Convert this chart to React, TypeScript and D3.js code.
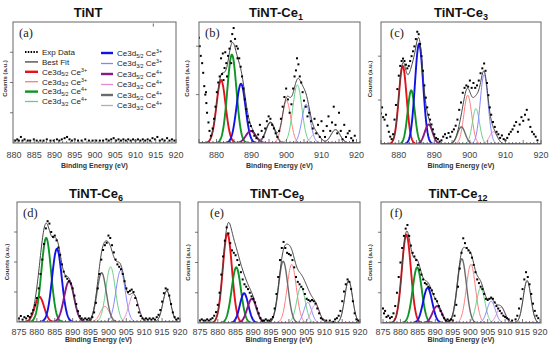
import React from 'react'
import * as d3 from 'd3'

type Pt = [number, number]
type Peak = [number, number, number] // centre (eV), height, sigma

// ---- data ----
const titles = ['TiNT', 'TiNT-Ce', 'TiNT-Ce', 'TiNT-Ce', 'TiNT-Ce', 'TiNT-Ce']
const titleSubs = ['', '1', '3', '6', '9', '12']
const letters = ['(a)', '(b)', '(c)', '(d)', '(e)', '(f)']
const xDomains: Pt[] = [[880, 920], [875, 921], [875, 920], [875, 920], [875, 920], [875, 920]]
const xLabels = [
  [880, 885, 890, 895, 900, 905, 910, 915, 920],
  [880, 890, 900, 910, 920],
  [880, 890, 900, 910, 920],
  [875, 880, 885, 890, 895, 900, 905, 910, 915, 920],
  [875, 880, 885, 890, 895, 900, 905, 910, 915, 920],
  [875, 880, 885, 890, 895, 900, 905, 910, 915, 920],
]
const yTicks = [[0.25, 0.5, 0.75], [0.4, 0.8], [0.36, 0.72], [0.25, 0.5, 0.75], [0.25, 0.5, 0.75], [0.25, 0.5, 0.75]]

// component order: 5/2 Ce3+ red, 3/2 Ce3+, 5/2 Ce4+ green, 3/2 Ce4+, 5/2 blue, 3/2, 5/2 purple, 3/2, 5/2 gray, 3/2
const compSubs = ['5/2', '3/2', '5/2', '3/2', '5/2', '3/2', '5/2', '3/2', '5/2', '3/2']
const compSups = ['3+', '3+', '4+', '4+', '3+', '3+', '4+', '4+', '4+', '4+']

const peaksB: Peak[] = [[881.3, 0.52, 1.3], [900.0, 0.35, 1.2], [884.4, 0.73, 1.3], [903.1, 0.48, 1.3], [887.0, 0.49, 1.3], [905.6, 0.32, 1.2], [889.8, 0.1, 1.4], [908.3, 0.08, 1.3], [895.4, 0.17, 1.3], [914.0, 0.11, 1.3]]
const peaksC: Peak[] = [[881.1, 0.64, 1.1], [899.4, 0.4, 1.1], [883.5, 0.44, 1.0], [901.7, 0.29, 1.0], [885.7, 0.82, 1.15], [904.0, 0.57, 1.1], [888.4, 0.16, 1.1], [906.6, 0.1, 1.1], [897.6, 0.14, 1.1], [916.0, 0, 1]]
const peaksD: Peak[] = [[880.7, 0.21, 1.3], [899.0, 0.13, 1.3], [882.6, 0.7, 1.35], [900.6, 0.46, 1.3], [885.6, 0.61, 1.35], [903.4, 0.43, 1.3], [889.0, 0.34, 1.4], [907.0, 0.23, 1.3], [898.1, 0.41, 1.3], [916.3, 0.26, 1.1]]
const peaksE: Peak[] = [[882.7, 0.74, 1.3], [900.8, 0.485, 1.3], [885.2, 0.46, 1.3], [903.4, 0.3, 1.2], [887.4, 0.245, 1.2], [905.3, 0.17, 1.1], [889.6, 0.2, 1.3], [907.4, 0.15, 1.2], [898.4, 0.51, 1.3], [916.8, 0.35, 1.1]]
const peaksF: Peak[] = [[881.7, 0.73, 1.3], [900.2, 0.485, 1.3], [884.8, 0.46, 1.3], [903.0, 0.29, 1.2], [887.8, 0.29, 1.3], [906.0, 0.18, 1.2], [890.5, 0.14, 1.3], [908.8, 0.13, 1.2], [897.6, 0.53, 1.3], [916.3, 0.35, 1.1]]

const expA: Pt[] = [[880.3, 0.02], [880.8, 0.03], [881.2, 0.02], [881.7, 0.05], [882.1, 0.02], [882.6, 0.03], [883.4, 0.02], [884.0, 0.02], [884.9, 0.03], [885.6, 0.02], [886.5, 0.02], [887.3, 0.02], [888.1, 0.03], [889.0, 0.02], [889.8, 0.02], [890.6, 0.03], [891.2, 0.02], [891.8, 0.03], [892.5, 0.04], [893.1, 0.05], [893.7, 0.03], [894.3, 0.02], [895.0, 0.03], [895.8, 0.02], [896.7, 0.02], [897.6, 0.03], [898.5, 0.02], [899.4, 0.02], [900.3, 0.02], [901.2, 0.02], [902.0, 0.02], [902.8, 0.03], [903.4, 0.02], [904.0, 0.03], [904.6, 0.04], [905.2, 0.02], [905.8, 0.03], [906.4, 0.02], [907.0, 0.03], [907.6, 0.02], [908.2, 0.03], [908.8, 0.02], [909.4, 0.03], [910.0, 0.02], [910.6, 0.03], [911.2, 0.02], [911.8, 0.03], [912.4, 0.02], [913.0, 0.03], [913.6, 0.02], [914.2, 0.04], [914.8, 0.03], [915.4, 0.05], [916.0, 0.02], [916.6, 0.03], [917.2, 0.02], [917.8, 0.04], [918.4, 0.02], [919.0, 0.03], [919.6, 0.02]]
const strayA: Pt[] = [[914.4, 0.975]]

const expB: Pt[] = [[875.0, 0.87], [875.2, 0.8], [875.5, 0.72], [875.9, 0.66], [876.2, 0.58], [876.5, 0.47], [876.8, 0.4], [877.0, 0.42], [877.1, 0.33], [877.3, 0.25], [877.7, 0.17], [878.0, 0.1], [878.4, 0.06], [878.9, 0.12], [879.3, 0.2], [879.7, 0.3], [880.1, 0.42], [880.5, 0.5], [880.9, 0.55], [881.3, 0.7], [881.6, 0.57], [881.8, 0.74], [882.0, 0.52], [882.3, 0.62], [882.5, 0.75], [882.8, 0.66], [883.0, 0.55], [883.3, 0.72], [883.7, 0.78], [884.1, 0.84], [884.2, 0.66], [884.5, 0.9], [884.9, 0.95], [885.3, 0.86], [885.7, 0.8], [886.0, 0.7], [886.1, 0.78], [886.5, 0.7], [886.9, 0.63], [887.3, 0.55], [887.7, 0.45], [888.1, 0.36], [888.5, 0.28], [888.9, 0.22], [889.3, 0.17], [889.8, 0.14], [890.3, 0.1], [890.8, 0.06], [891.4, 0.04], [891.9, 0.07], [892.4, 0.15], [892.9, 0.1], [893.4, 0.05], [893.9, 0.12], [894.4, 0.18], [894.9, 0.22], [895.4, 0.2], [895.9, 0.15], [896.4, 0.12], [896.9, 0.08], [897.4, 0.05], [897.9, 0.1], [898.4, 0.2], [898.9, 0.3], [899.4, 0.38], [899.9, 0.45], [900.4, 0.36], [900.9, 0.25], [901.4, 0.32], [901.9, 0.45], [902.3, 0.55], [902.7, 0.6], [903.0, 0.7], [903.4, 0.65], [903.8, 0.55], [904.2, 0.5], [904.6, 0.42], [905.0, 0.35], [905.5, 0.3], [906.0, 0.22], [906.5, 0.25], [907.0, 0.18], [907.5, 0.12], [908.0, 0.2], [908.5, 0.08], [909.0, 0.15], [909.5, 0.05], [910.0, 0.18], [910.5, 0.1], [911.0, 0.05], [911.5, 0.14], [912.0, 0.22], [912.5, 0.1], [913.0, 0.17], [913.5, 0.3], [914.0, 0.15], [914.5, 0.08], [915.0, 0.25], [915.5, 0.1], [916.0, 0.03], [916.5, 0.15], [917.0, 0.05], [917.5, 0.08], [918.0, 0.1], [918.5, 0.04], [919.0, 0.02], [919.5, 0.06]]

const expC: Pt[] = [[875.0, 0.25], [875.3, 0.3], [875.6, 0.22], [876.0, 0.2], [876.4, 0.24], [876.8, 0.15], [877.2, 0.1], [877.6, 0.06], [878.0, 0.04], [878.4, 0.08], [878.8, 0.2], [879.2, 0.32], [879.6, 0.45], [880.0, 0.56], [880.4, 0.64], [880.8, 0.68], [881.2, 0.7], [881.6, 0.68], [882.0, 0.65], [882.4, 0.62], [882.8, 0.64], [883.2, 0.68], [883.6, 0.72], [884.0, 0.76], [884.4, 0.8], [884.8, 0.86], [885.2, 0.92], [885.6, 0.9], [886.0, 0.82], [886.4, 0.72], [886.8, 0.6], [887.2, 0.48], [887.6, 0.38], [888.0, 0.3], [888.4, 0.24], [888.8, 0.2], [889.2, 0.16], [889.6, 0.12], [890.0, 0.08], [890.5, 0.05], [891.0, 0.04], [891.5, 0.02], [892.0, 0.03], [892.5, 0.06], [893.0, 0.08], [893.5, 0.05], [894.0, 0.09], [894.5, 0.06], [895.0, 0.1], [895.5, 0.12], [896.0, 0.15], [896.5, 0.2], [897.0, 0.28], [897.5, 0.34], [898.0, 0.42], [898.5, 0.46], [899.0, 0.48], [899.5, 0.47], [900.0, 0.52], [900.5, 0.46], [901.0, 0.5], [901.5, 0.46], [902.0, 0.48], [902.5, 0.52], [903.0, 0.58], [903.5, 0.62], [904.0, 0.66], [904.4, 0.6], [904.8, 0.5], [905.2, 0.4], [905.6, 0.3], [906.0, 0.24], [906.5, 0.18], [907.0, 0.14], [907.5, 0.1], [908.0, 0.08], [908.5, 0.05], [909.0, 0.07], [909.5, 0.04], [910.0, 0.03], [910.5, 0.05], [911.0, 0.08], [911.5, 0.1], [912.0, 0.12], [912.5, 0.15], [913.0, 0.18], [913.5, 0.1], [914.0, 0.16], [914.5, 0.22], [915.0, 0.19], [915.5, 0.24], [916.0, 0.28], [916.5, 0.2], [917.0, 0.14], [917.5, 0.1], [918.0, 0.08], [918.5, 0.06], [919.0, 0.03]]

const expD: Pt[] = [[875.0, 0.03], [875.5, 0.05], [876.0, 0.02], [876.5, 0.04], [877.0, 0.03], [877.5, 0.05], [878.0, 0.04], [878.5, 0.07], [879.0, 0.1], [879.5, 0.14], [880.0, 0.2], [880.5, 0.28], [881.0, 0.4], [881.5, 0.52], [882.0, 0.65], [882.5, 0.78], [883.0, 0.84], [883.5, 0.82], [884.0, 0.75], [884.5, 0.71], [885.0, 0.72], [885.5, 0.68], [886.0, 0.62], [886.5, 0.56], [887.0, 0.48], [887.5, 0.42], [888.0, 0.38], [888.5, 0.36], [889.0, 0.34], [889.5, 0.32], [890.0, 0.28], [890.5, 0.22], [891.0, 0.15], [891.5, 0.09], [892.0, 0.05], [892.5, 0.03], [893.0, 0.02], [893.5, 0.03], [894.0, 0.02], [894.5, 0.03], [895.0, 0.02], [895.5, 0.04], [896.0, 0.08], [896.5, 0.16], [897.0, 0.28], [897.5, 0.4], [898.0, 0.52], [898.5, 0.6], [899.0, 0.64], [899.5, 0.66], [900.0, 0.72], [900.5, 0.7], [901.0, 0.64], [901.5, 0.58], [902.0, 0.52], [902.5, 0.48], [903.0, 0.46], [903.5, 0.44], [904.0, 0.4], [904.5, 0.34], [905.0, 0.28], [905.5, 0.25], [906.0, 0.26], [906.5, 0.27], [907.0, 0.25], [907.5, 0.2], [908.0, 0.14], [908.5, 0.08], [909.0, 0.05], [909.5, 0.03], [910.0, 0.02], [910.5, 0.03], [911.0, 0.02], [911.5, 0.03], [912.0, 0.02], [912.5, 0.03], [913.0, 0.02], [913.5, 0.04], [914.0, 0.06], [914.5, 0.1], [915.0, 0.17], [915.5, 0.24], [916.0, 0.28], [916.5, 0.27], [917.0, 0.22], [917.5, 0.15], [918.0, 0.08], [918.5, 0.04], [919.0, 0.02], [919.5, 0.03]]

const expE: Pt[] = [[875.0, 0.02], [875.5, 0.03], [876.0, 0.02], [876.5, 0.02], [877.0, 0.03], [877.5, 0.02], [878.0, 0.03], [878.5, 0.04], [879.0, 0.06], [879.5, 0.09], [880.0, 0.15], [880.5, 0.25], [881.0, 0.4], [881.5, 0.55], [882.0, 0.68], [882.5, 0.79], [883.0, 0.74], [883.5, 0.66], [884.0, 0.6], [884.5, 0.58], [885.0, 0.56], [885.5, 0.52], [886.0, 0.48], [886.5, 0.42], [887.0, 0.36], [887.5, 0.32], [888.0, 0.3], [888.5, 0.28], [889.0, 0.25], [889.5, 0.22], [890.0, 0.2], [890.5, 0.17], [891.0, 0.12], [891.5, 0.08], [892.0, 0.04], [892.5, 0.02], [893.0, 0.02], [893.5, 0.03], [894.0, 0.02], [894.5, 0.02], [895.0, 0.03], [895.5, 0.05], [896.0, 0.12], [896.5, 0.24], [897.0, 0.38], [897.5, 0.52], [898.0, 0.62], [898.5, 0.67], [899.0, 0.62], [899.5, 0.58], [900.0, 0.57], [900.5, 0.56], [901.0, 0.52], [901.5, 0.46], [902.0, 0.38], [902.5, 0.34], [903.0, 0.32], [903.5, 0.3], [904.0, 0.28], [904.5, 0.24], [905.0, 0.2], [905.5, 0.19], [906.0, 0.18], [906.5, 0.19], [907.0, 0.18], [907.5, 0.16], [908.0, 0.12], [908.5, 0.08], [909.0, 0.04], [909.5, 0.03], [910.5, 0.02], [911.5, 0.02], [912.5, 0.01], [913.0, 0.03], [913.5, 0.04], [914.0, 0.06], [914.5, 0.1], [915.0, 0.18], [915.5, 0.26], [916.0, 0.32], [916.5, 0.36], [917.0, 0.34], [917.5, 0.28], [918.0, 0.18], [918.5, 0.08], [919.0, 0.03], [919.5, 0.02]]

const expF: Pt[] = [[875.0, 0.12], [875.3, 0.08], [875.6, 0.1], [876.0, 0.05], [876.5, 0.06], [877.0, 0.04], [877.5, 0.05], [878.0, 0.08], [878.5, 0.14], [879.0, 0.25], [879.5, 0.38], [880.0, 0.5], [880.5, 0.62], [881.0, 0.72], [881.5, 0.78], [882.0, 0.81], [882.5, 0.72], [883.0, 0.64], [883.5, 0.58], [884.0, 0.55], [884.5, 0.52], [885.0, 0.48], [885.5, 0.44], [886.0, 0.4], [886.5, 0.36], [887.0, 0.33], [887.5, 0.32], [888.0, 0.3], [888.5, 0.29], [889.0, 0.27], [889.5, 0.24], [890.0, 0.2], [890.5, 0.18], [891.0, 0.14], [891.5, 0.1], [892.0, 0.07], [892.5, 0.04], [893.0, 0.02], [893.5, 0.03], [894.0, 0.02], [894.5, 0.03], [895.0, 0.02], [895.5, 0.06], [896.0, 0.15], [896.5, 0.3], [897.0, 0.45], [897.5, 0.58], [898.0, 0.7], [898.5, 0.66], [899.0, 0.62], [899.5, 0.6], [900.0, 0.58], [900.5, 0.54], [901.0, 0.48], [901.5, 0.42], [902.0, 0.36], [902.5, 0.33], [903.0, 0.3], [903.5, 0.28], [904.0, 0.24], [904.5, 0.2], [905.0, 0.19], [905.5, 0.2], [906.0, 0.21], [906.5, 0.2], [907.0, 0.17], [907.5, 0.14], [908.0, 0.12], [908.5, 0.1], [909.0, 0.08], [909.5, 0.06], [910.0, 0.05], [910.5, 0.04], [911.0, 0.03], [912.0, 0.02], [913.0, 0.03], [913.5, 0.06], [914.0, 0.12], [914.5, 0.2], [915.0, 0.28], [915.5, 0.36], [916.0, 0.42], [916.5, 0.38], [917.0, 0.32], [917.5, 0.24], [918.0, 0.16], [918.5, 0.1], [919.0, 0.06], [919.5, 0.04]]

const peakSets: Peak[][] = [[], peaksB, peaksC, peaksD, peaksE, peaksF]
const expSets: Pt[][] = [expA, expB, expC, expD, expE, expF]

// ---- styling / layout ----
const compColors = ['#e3121b', '#ff7c7c', '#0f9426', '#66cf86', '#1212e6', '#8585ff', '#8a1887', '#e48ad6', '#6b6b6b', '#b0b0b0']
const compWidths = [1.9, 1, 1.9, 1, 1.9, 1, 1.9, 1, 1.4, 1]
const layout = [
  { left: 13, right: 176, top: 22, bottom: 143, r0: 14, r1: 176, titleX: 88, titleY: 17, letterX: 19, countsX: 7, tickY: 158, axisY: 168 },
  { left: 199, right: 360, top: 22, bottom: 143, r0: 199, r1: 360, titleX: 276, titleY: 17, letterX: 205, countsX: 189, tickY: 158, axisY: 168 },
  { left: 381, right: 541, top: 22, bottom: 144, r0: 381, r1: 541, titleX: 461, titleY: 17, letterX: 390, countsX: 372, tickY: 158, axisY: 168 },
  { left: 17, right: 180, top: 202, bottom: 322, r0: 19, r1: 180, titleX: 96, titleY: 198, letterX: 23, countsX: 9, tickY: 335, axisY: 342 },
  { left: 198, right: 360, top: 202, bottom: 323, r0: 200, r1: 360, titleX: 277, titleY: 198, letterX: 210, countsX: 190, tickY: 335, axisY: 342 },
  { left: 381, right: 541, top: 202, bottom: 323, r0: 383, r1: 540, titleX: 458, titleY: 198, letterX: 390, countsX: 372, tickY: 335, axisY: 342 },
]
const SANS = 'Liberation Sans, Arial, sans-serif'
const SERIF = 'Liberation Serif, Times New Roman, serif'

const gauss = (e: number, p: Peak) => p[1] * Math.exp(-((e - p[0]) ** 2) / (2 * p[2] * p[2]))

function CeLabel({ x, y, i }: { x: number; y: number; i: number }) {
  return (
    <text x={x} y={y} fontSize={8} fontFamily={SANS} fill="#222">
      Ce3d<tspan fontSize={5.3} dy={1.8}>{compSubs[i]}</tspan>
      <tspan dy={-1.8}> Ce</tspan>
      <tspan fontSize={5.3} dy={-3}>{compSups[i]}</tspan>
    </text>
  )
}

function Legend() {
  const rowsL = d3.range(6).map(k => 52 + k * 9.9)
  const rowsR = d3.range(6).map(k => 53 + k * 10.5)
  return (
    <g>
      <line x1={25} x2={38} y1={rowsL[0]} y2={rowsL[0]} stroke="#000" strokeWidth={2} strokeDasharray="1.5,1.3" />
      <text x={42} y={rowsL[0] + 2.8} fontSize={8} fontFamily={SANS} fill="#222">Exp Data</text>
      <line x1={25} x2={38} y1={rowsL[1]} y2={rowsL[1]} stroke="#666" strokeWidth={1.6} />
      <text x={42} y={rowsL[1] + 2.8} fontSize={8} fontFamily={SANS} fill="#222">Best Fit</text>
      {[0, 1, 2, 3].map(k => (
        <g key={'l' + k}>
          <line x1={25} x2={38} y1={rowsL[k + 2]} y2={rowsL[k + 2]} stroke={compColors[k]} strokeWidth={k % 2 ? 1.3 : 2.4} />
          <CeLabel x={42} y={rowsL[k + 2] + 2.8} i={k} />
        </g>
      ))}
      {[4, 5, 6, 7, 8, 9].map((c, k) => (
        <g key={'r' + k}>
          <line x1={101} x2={113} y1={rowsR[k]} y2={rowsR[k]} stroke={compColors[c]} strokeWidth={c % 2 ? 1.3 : 2.4} />
          <CeLabel x={117} y={rowsR[k] + 2.8} i={c} />
        </g>
      ))}
    </g>
  )
}

function Panel({ i }: { i: number }) {
  const L = layout[i]
  const dom = xDomains[i]
  const x = d3.scaleLinear().domain(dom).range([L.r0, L.r1])
  const y = d3.scaleLinear().domain([0, 1]).range([L.bottom, L.top])
  const peaks = peakSets[i]
  const grid = d3.range(dom[0], dom[1] + 0.001, 0.1)
  const line = d3.line<Pt>().x(d => x(d[0])).y(d => y(d[1]))
  const minor = d3.range(Math.ceil(dom[0]), Math.floor(dom[1]) + 1, 1)
  const midY = (L.top + L.bottom) / 2 - (i < 3 ? 4 : 0)
  const clipId = 'clip' + i

  return (
    <g>
      <defs>
        <clipPath id={clipId}>
          <rect x={L.left} y={L.top} width={L.right - L.left} height={L.bottom - L.top} />
        </clipPath>
      </defs>
      <text x={L.titleX} y={L.titleY} textAnchor="middle" fontSize={13} fontWeight="bold" fontFamily={SANS} fill="#111">
        {titles[i]}
        {titleSubs[i] && <tspan fontSize={9} dy={3}>{titleSubs[i]}</tspan>}
      </text>
      <g clipPath={`url(#${clipId})`}>
        {peaks.map((p, k) => (
          <path key={k} d={line(grid.map(e => [e, gauss(e, p)] as Pt)) || ''} fill="none" stroke={compColors[k]} strokeWidth={compWidths[k]} />
        ))}
        {peaks.length > 0 && (
          <path d={line(grid.map(e => [e, d3.sum(peaks, p => gauss(e, p))] as Pt)) || ''} fill="none" stroke="#444" strokeWidth={1} />
        )}
        {expSets[i].map((d, k) => (
          <rect key={k} x={x(d[0]) - 1} y={y(d[1]) - 1} width={2} height={2} fill="#000" />
        ))}
        {i === 0 && strayA.map((d, k) => (
          <rect key={k} x={x(d[0]) - 0.5} y={y(d[1]) - 1.5} width={1} height={3} fill="#3a6fd8" />
        ))}
      </g>
      <rect x={L.left} y={L.top} width={L.right - L.left} height={L.bottom - L.top} fill="none" stroke="#666" strokeWidth={1} />
      {minor.map(v => (
        <line key={v} x1={x(v)} x2={x(v)} y1={L.bottom} y2={L.bottom - (v % 5 === 0 ? 4 : 2)} stroke="#555" strokeWidth={0.8} />
      ))}
      {yTicks[i].map(t => (
        <line key={t} x1={L.left - 3} x2={L.left} y1={y(t)} y2={y(t)} stroke="#555" strokeWidth={0.8} />
      ))}
      {xLabels[i].map(v => (
        <text key={v} x={x(v)} y={L.tickY} textAnchor="middle" fontSize={9} fontFamily={SANS} fill="#444">{v}</text>
      ))}
      <text x={(L.left + L.right) / 2} y={L.axisY} textAnchor="middle" fontSize={7} fontWeight="bold" fontFamily={SANS} fill="#333">
        Binding Energy (eV)
      </text>
      <text transform={`translate(${L.countsX},${midY}) rotate(-90)`} textAnchor="middle" fontSize={6} fontWeight="bold" fontFamily={SANS} fill="#333">
        Counts (a.u.)
      </text>
      <text x={L.letterX} y={i < 3 ? 37 : 217} fontSize={12.5} fontFamily={SERIF} fill="#222">{letters[i]}</text>
      {i === 0 && <Legend />}
    </g>
  )
}

export default function App() {
  return (
    <svg width={550} height={355} style={{ position: 'absolute', left: 0, top: 0, background: '#fff' }}>
      {d3.range(6).map(i => <Panel key={i} i={i} />)}
    </svg>
  )
}
